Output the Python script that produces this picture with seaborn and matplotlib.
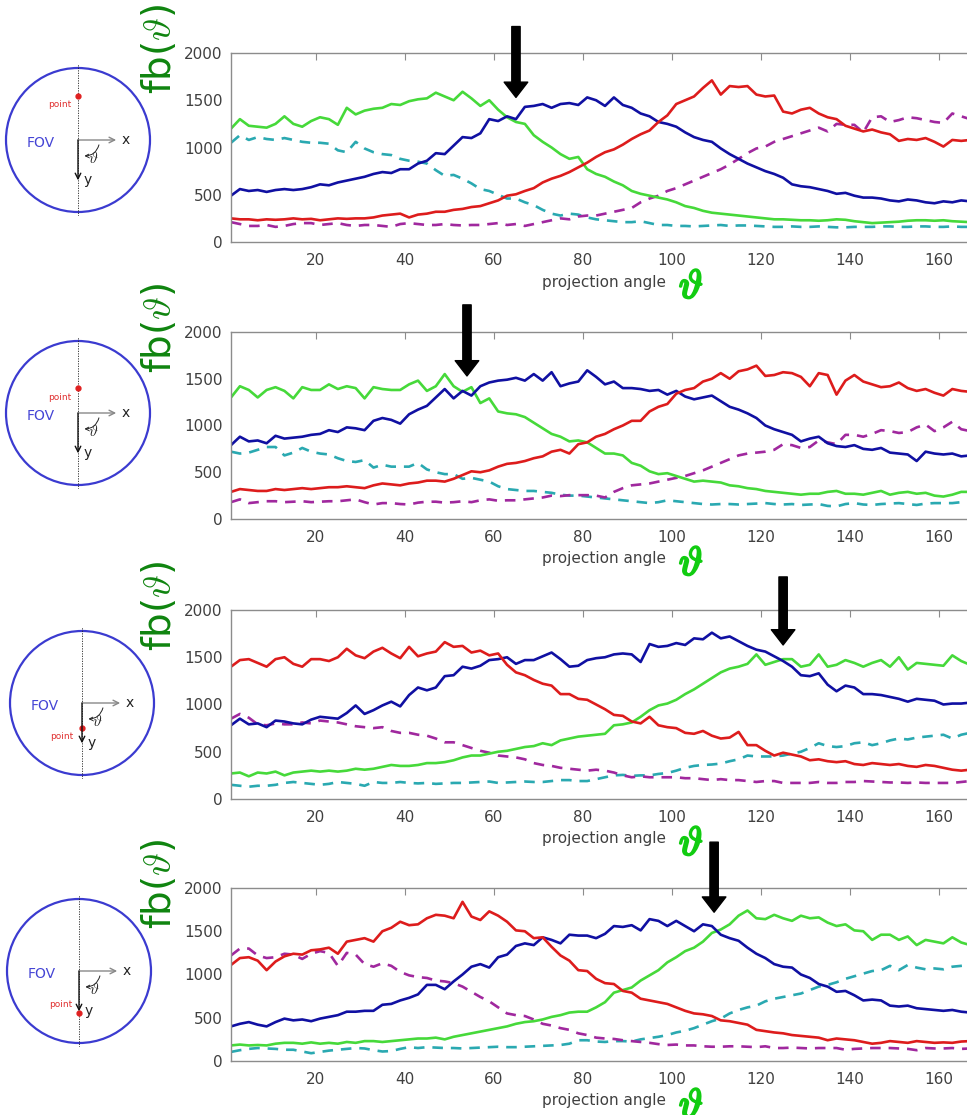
import numpy as np
import pandas as pd
import matplotlib
matplotlib.use('Agg')
import matplotlib.pyplot as plt
import matplotlib.patheffects as pe
import seaborn as sns
from matplotlib.patches import Circle, FancyArrowPatch

# projection angles (every 2 degrees)
angles = np.arange(1, 168, 2)

# ---- panel 1 (point above centre) ----
p1_green = [1200, 1300, 1230, 1220, 1210, 1250, 1330, 1250, 1220, 1280,
            1320, 1300, 1240, 1420, 1350, 1390, 1410, 1420, 1460, 1450,
            1490, 1510, 1520, 1580, 1540, 1500, 1590, 1520, 1440, 1500,
            1400, 1320, 1270, 1250, 1130, 1060, 1000, 930, 880, 900,
            770, 720, 690, 640, 600, 540, 510, 490, 470, 450,
            420, 380, 360, 330, 310, 300, 290, 280, 270, 260,
            250, 240, 240, 235, 230, 230, 225, 230, 240, 235,
            220, 210, 200, 205, 210, 215, 225, 230, 230, 225,
            230, 220, 215, 210]
p1_blue = [490, 560, 540, 550, 530, 550, 560, 550, 560, 580,
           610, 600, 630, 650, 670, 690, 720, 740, 730, 770,
           770, 830, 860, 940, 930, 1020, 1110, 1100, 1150, 1300,
           1280, 1330, 1300, 1430, 1440, 1460, 1420, 1460, 1470, 1450,
           1530, 1500, 1440, 1530, 1450, 1420, 1360, 1330, 1270, 1250,
           1220, 1160, 1110, 1080, 1060, 990, 930, 880, 830, 790,
           750, 720, 680, 610, 590, 580, 560, 540, 510, 520,
           490, 470, 470, 460, 440, 430, 450, 440, 420, 410,
           430, 420, 440, 430]
p1_red = [250, 240, 240, 230, 240, 235, 240, 250, 240, 245,
          230, 240, 250, 245, 250, 250, 260, 280, 290, 300,
          260, 290, 300, 320, 320, 340, 350, 370, 380, 410,
          440, 490, 505, 540, 570, 630, 670, 700, 740, 790,
          840, 900, 950, 980, 1030, 1090, 1140, 1180, 1270, 1340,
          1460, 1500, 1540, 1630, 1710, 1560, 1650, 1640, 1650, 1560,
          1540, 1550, 1380, 1360, 1400, 1420, 1360, 1320, 1300, 1230,
          1200, 1170, 1190, 1160, 1140, 1070, 1090, 1080, 1100, 1060,
          1010, 1080, 1070, 1080]
p1_cyan = [1050, 1130, 1080, 1110, 1090, 1080, 1100, 1080, 1060, 1050,
           1050, 1040, 970, 950, 1060, 990, 950, 930, 920, 880,
           860, 850, 830, 760, 700, 710, 670, 620, 560, 540,
           500, 460, 460, 420, 390, 340, 300, 280, 300, 290,
           260, 240, 230, 220, 210, 210, 220, 200, 180, 180,
           170, 170, 165, 170, 175, 180, 170, 175, 175, 170,
           165, 160, 160, 165, 160, 160, 165, 160, 155, 155,
           160, 160, 160, 165, 165, 160, 160, 165, 165, 160,
           160, 165, 160, 160]
p1_magenta = [210, 190, 170, 170, 180, 160, 170, 190, 200, 200,
              180, 190, 200, 180, 170, 180, 180, 170, 160, 190,
              200, 190, 180, 180, 190, 180, 175, 180, 180, 190,
              200, 180, 190, 170, 190, 210, 230, 250, 240, 270,
              280, 280, 300, 320, 340, 360, 420, 460, 490, 540,
              570, 610, 650, 690, 730, 770, 820, 880, 940, 990,
              1010, 1060, 1090, 1120, 1150, 1180, 1210, 1170, 1250, 1240,
              1240, 1160, 1320, 1330, 1270, 1290, 1320, 1310, 1290, 1270,
              1260, 1360, 1330, 1300]

# ---- panel 2 ----
p2_green = [1300, 1420, 1380, 1300, 1380, 1410, 1370, 1290, 1410, 1380,
            1380, 1440, 1390, 1420, 1400, 1290, 1410, 1390, 1380, 1380,
            1440, 1480, 1370, 1420, 1550, 1420, 1360, 1410, 1240, 1290,
            1150, 1130, 1120, 1090, 1030, 970, 910, 880, 830, 840,
            820, 760, 700, 700, 680, 600, 570, 510, 480, 490,
            460, 430, 400, 410, 400, 390, 360, 350, 330, 320,
            300, 290, 280, 270, 260, 270, 270, 290, 300, 270,
            270, 260, 280, 300, 260, 280, 290, 270, 280, 250,
            240, 260, 290, 290]
p2_blue = [790, 880, 830, 840, 810, 890, 860, 870, 880, 900,
           910, 950, 930, 980, 970, 950, 1050, 1080, 1060, 1020,
           1120, 1170, 1210, 1300, 1390, 1290, 1370, 1320, 1420, 1460,
           1480, 1490, 1510, 1480, 1550, 1480, 1570, 1420, 1450, 1470,
           1590, 1520, 1440, 1470, 1400, 1400, 1390, 1370, 1380, 1330,
           1370, 1310, 1280, 1300, 1320, 1260, 1200, 1170, 1130, 1080,
           1000, 960, 930, 900, 830, 860, 880, 810, 780, 770,
           790, 750, 740, 760, 710, 700, 690, 620, 720, 700,
           690, 700, 670, 680]
p2_red = [290, 320, 310, 300, 300, 320, 310, 320, 330, 320,
          330, 340, 340, 350, 340, 330, 360, 380, 370, 360,
          380, 390, 410, 410, 400, 430, 470, 510, 500, 520,
          560, 590, 600, 620, 650, 670, 720, 740, 700, 800,
          820, 880, 910, 960, 1000, 1050, 1050, 1150, 1200, 1230,
          1340, 1380, 1400, 1470, 1500, 1560, 1500, 1580, 1600, 1640,
          1530, 1540, 1570, 1560, 1520, 1420, 1560, 1540, 1330, 1480,
          1540, 1470, 1440, 1410, 1420, 1460, 1400, 1370, 1390, 1350,
          1320, 1390, 1370, 1360]
p2_cyan = [720, 700, 710, 740, 770, 770, 680, 710, 760, 720,
           700, 690, 650, 620, 610, 630, 550, 580, 560, 560,
           560, 600, 530, 500, 480, 480, 430, 440, 420, 400,
           350, 320, 310, 300, 300, 290, 280, 260, 250, 250,
           240, 230, 220, 210, 200, 190, 180, 170, 180, 200,
           190, 180, 170, 160, 155, 160, 160, 155, 160, 165,
           170, 160, 155, 160, 150, 155, 160, 140, 135, 160,
           170, 155, 150, 160, 165, 170, 160, 150, 165, 170,
           170, 170, 180, 185]
p2_magenta = [180, 210, 170, 180, 190, 190, 180, 185, 190, 180,
              185, 190, 190, 200, 210, 180, 155, 170, 170, 160,
              155, 175, 185, 185, 175, 180, 190, 180, 200, 210,
              195, 200, 200, 210, 220, 230, 250, 245, 255, 255,
              255, 250, 230, 290, 330, 360, 370, 380, 400, 420,
              440, 460, 490, 520, 560, 600, 640, 680, 700, 710,
              720, 740, 800, 790, 760, 770, 840, 820, 800, 900,
              900, 880, 910, 950, 940, 920, 930, 980, 1010, 940,
              980, 1040, 960, 940]

# ---- panel 3 ----
p3_green = [270, 280, 240, 280, 270, 290, 250, 280, 290, 300,
            290, 300, 290, 300, 320, 310, 320, 340, 360, 350,
            350, 360, 380, 380, 390, 410, 440, 460, 460, 480,
            500, 510, 530, 550, 560, 590, 570, 620, 640, 660,
            670, 680, 690, 780, 790, 810, 870, 940, 990, 1010,
            1050, 1110, 1160, 1220, 1280, 1340, 1380, 1400, 1430, 1530,
            1420, 1450, 1480, 1480, 1400, 1420, 1530, 1400, 1420, 1470,
            1440, 1400, 1440, 1470, 1400, 1500, 1370, 1440, 1430, 1420,
            1410, 1520, 1460, 1420]
p3_blue = [780, 850, 790, 800, 760, 830, 820, 800, 790, 840,
           870, 860, 850, 910, 990, 900, 940, 990, 1030, 980,
           1100, 1180, 1150, 1180, 1300, 1310, 1400, 1380, 1410, 1470,
           1480, 1500, 1430, 1470, 1470, 1510, 1550, 1480, 1400, 1410,
           1470, 1490, 1500, 1530, 1540, 1530, 1450, 1640, 1610, 1620,
           1650, 1630, 1700, 1690, 1760, 1700, 1720, 1670, 1620, 1580,
           1560, 1510, 1460, 1400, 1310, 1300, 1330, 1210, 1140, 1200,
           1180, 1110, 1110, 1100, 1080, 1060, 1030, 1060, 1050, 1040,
           1000, 1010, 1010, 1020]
p3_red = [1400, 1470, 1480, 1440, 1400, 1480, 1500, 1430, 1400, 1480,
          1480, 1460, 1500, 1590, 1520, 1490, 1560, 1600, 1540, 1490,
          1610, 1510, 1540, 1560, 1660, 1610, 1620, 1550, 1570, 1520,
          1540, 1420, 1340, 1310, 1260, 1220, 1200, 1110, 1110, 1060,
          1050, 1000, 950, 890, 880, 820, 800, 870, 780, 760,
          750, 700, 690, 720, 670, 640, 650, 710, 570, 570,
          510, 460, 490, 470, 450, 410, 420, 400, 390, 400,
          370, 360, 380, 370, 360, 370, 350, 340, 360, 350,
          330, 310, 300, 310]
p3_cyan = [150, 140, 130, 140, 140, 150, 170, 180, 170, 160,
           150, 160, 180, 170, 160, 140, 180, 170, 170, 180,
           170, 165, 170, 160, 165, 170, 170, 175, 180, 185,
           170, 175, 180, 185, 180, 180, 190, 200, 200, 190,
           190, 210, 230, 250, 255, 245, 250, 250, 265, 275,
           300, 330, 350, 360, 365, 375, 400, 420, 460, 450,
           450, 450, 460, 480, 500, 540, 590, 560, 550, 560,
           590, 600, 570, 590, 620, 640, 630, 650, 660, 670,
           680, 640, 680, 700]
p3_magenta = [850, 900, 860, 790, 780, 800, 790, 790, 810, 800,
              830, 820, 810, 790, 770, 760, 750, 760, 720, 700,
              700, 680, 670, 640, 600, 600, 570, 540, 510, 490,
              460, 450, 440, 420, 380, 360, 350, 330, 320, 310,
              300, 310, 300, 280, 250, 230, 240, 230, 230, 230,
              230, 220, 220, 210, 200, 210, 200, 200, 190, 180,
              190, 190, 170, 170, 170, 170, 180, 170, 170, 180,
              180, 190, 185, 180, 175, 175, 170, 175, 170, 170,
              170, 170, 180, 190]

# ---- panel 4 (point below centre) ----
p4_green = [180, 190, 180, 185, 180, 200, 210, 210, 200, 215,
            200, 210, 200, 220, 210, 230, 230, 220, 230, 240,
            250, 260, 260, 270, 250, 280, 300, 320, 340, 360,
            380, 400, 430, 450, 460, 480, 510, 530, 560, 570,
            570, 620, 680, 790, 820, 850, 930, 990, 1050, 1140,
            1200, 1270, 1310, 1380, 1480, 1520, 1580, 1680, 1740, 1650,
            1640, 1690, 1650, 1620, 1680, 1650, 1660, 1600, 1560, 1580,
            1510, 1500, 1400, 1460, 1460, 1400, 1440, 1340, 1400, 1380,
            1360, 1430, 1370, 1340]
p4_blue = [400, 430, 450, 420, 400, 450, 490, 470, 480, 460,
           490, 510, 530, 570, 570, 580, 580, 650, 660, 700,
           730, 770, 880, 880, 830, 920, 1000, 1090, 1120, 1080,
           1200, 1230, 1330, 1360, 1340, 1430, 1400, 1360, 1460, 1450,
           1450, 1420, 1470, 1560, 1550, 1570, 1510, 1640, 1620, 1560,
           1620, 1560, 1500, 1580, 1560, 1460, 1420, 1390, 1310, 1240,
           1190, 1120, 1090, 1080, 1000, 960, 890, 860, 800, 810,
           760, 700, 710, 700, 640, 630, 640, 610, 600, 590,
           580, 590, 570, 560]
p4_red = [1110, 1190, 1200, 1160, 1050, 1150, 1210, 1240, 1230, 1280,
          1290, 1310, 1240, 1380, 1400, 1420, 1380, 1500, 1540, 1610,
          1570, 1580, 1650, 1690, 1680, 1650, 1840, 1670, 1630, 1730,
          1680, 1610, 1510, 1500, 1420, 1430, 1320, 1220, 1160, 1050,
          1040, 950, 900, 890, 810, 790, 720, 700, 680, 660,
          620, 580, 550, 540, 520, 470, 460, 440, 420, 360,
          345, 330, 320, 300, 290, 280, 270, 240, 260, 250,
          240, 220, 200, 210, 230, 220, 210, 230, 220, 210,
          215, 210, 225, 230]
p4_cyan = [105, 125, 140, 150, 145, 140, 130, 130, 110, 90,
           105, 120, 130, 140, 150, 145, 125, 110, 115, 140,
           160, 150, 160, 155, 150, 150, 145, 150, 155, 160,
           165, 160, 160, 165, 170, 175, 180, 185, 200, 240,
           240, 225, 220, 230, 230, 225, 250, 265, 280, 300,
           330, 350, 380, 420, 460, 490, 550, 590, 620, 640,
           690, 720, 740, 760, 780, 820, 860, 880, 910, 950,
           980, 1010, 1040, 1050, 1100, 1050, 1110, 1080, 1060, 1070,
           1060, 1090, 1100, 1110]
p4_magenta = [1220, 1300, 1300, 1220, 1190, 1200, 1240, 1230, 1180, 1240,
              1270, 1250, 1100, 1250, 1230, 1120, 1090, 1130, 1100, 1030,
              990, 970, 960, 930, 920, 900, 860, 800, 740, 690,
              620, 550, 530, 520, 480, 430, 410, 380, 360, 320,
              300, 270, 260, 255, 240, 230, 220, 210, 195, 185,
              190, 180, 180, 170, 165, 165, 170, 170, 165, 160,
              170, 150, 150, 155, 150, 145, 150, 150, 150, 130,
              140, 145, 150, 150, 150, 145, 140, 125, 150, 145,
              145, 150, 140, 145]

# arrows marking the crossing point (angle, tip value, tail value)
arrow_angle = [65, 54, 125, 109.5]
arrow_tip = [1530, 1530, 1630, 1720]
arrow_tail = [2280, 2290, 2350, 2530]

# position of the point inside the FOV (relative to the radius)
point_y = [0.61, 0.35, -0.35, -0.58]
point_label_xy = [(-0.26, 0.49), (-0.25, 0.21), (-0.28, -0.46), (-0.26, -0.46)]

curve_names = ['cyan', 'magenta', 'green', 'blue', 'red']
palette = {'green': '#46d93a', 'blue': '#1010a2', 'red': '#dd1c1c',
           'cyan': '#2aa9b1', 'magenta': '#a0289e'}
dash_map = {'green': '', 'blue': '', 'red': '', 'cyan': (4, 3), 'magenta': (4, 3)}

panels = [
    [p1_cyan, p1_magenta, p1_green, p1_blue, p1_red],
    [p2_cyan, p2_magenta, p2_green, p2_blue, p2_red],
    [p3_cyan, p3_magenta, p3_green, p3_blue, p3_red],
    [p4_cyan, p4_magenta, p4_green, p4_blue, p4_red],
]

# layout (pixels)
W, H = 967, 1115
ax_left, ax_right = 231, 1028
ax_top = [53, 332, 610, 888]
ax_bottom = [242, 519, 799, 1061]
circle_c = [(78, 140), (78, 413), (82, 703), (79, 971)]
R = 72

sns.set_style('white')
plt.rcParams['font.family'] = ['DejaVu Sans']

THETA = r'$\vartheta$'
BRIGHT_GREEN = '#11cc11'

fig = plt.figure(figsize=(W / 100, H / 100), dpi=100)

for i, series in enumerate(panels):
    rect = [ax_left / W, 1 - ax_bottom[i] / H,
            (ax_right - ax_left) / W, (ax_bottom[i] - ax_top[i]) / H]
    ax = fig.add_axes(rect)
    df = pd.DataFrame({
        'angle': np.tile(angles, len(series)),
        'value': np.concatenate([np.asarray(s, float) for s in series]),
        'curve': np.repeat(curve_names, len(angles)),
    })
    sns.lineplot(data=df, x='angle', y='value', hue='curve', style='curve',
                 palette=palette, dashes=dash_map, linewidth=1.9,
                 legend=False, ax=ax)
    ax.set_xlim(1, 180)
    ax.set_ylim(0, 2000)
    ax.set_xticks(range(20, 161, 20))
    ax.set_yticks(range(0, 2001, 500))
    ax.set_xlabel('')
    ax.set_ylabel('')
    ax.tick_params(direction='in', length=5, width=0.8, color='#8c8c8c',
                   labelcolor='#404040', labelsize=11, top=True, right=True)
    ax.tick_params(axis='x', pad=8)
    ax.tick_params(axis='y', pad=6)
    for s in ax.spines.values():
        s.set_color('#8c8c8c')
        s.set_linewidth(1.0)

    # axis labels
    ax.annotate('fb(' + THETA + ')', xy=(0, 1), xycoords='axes fraction',
                xytext=(-71, 4), textcoords='offset pixels', rotation=90,
                ha='center', va='center', fontsize=28, color='#0f840f',
                math_fontfamily='cm')
    ax.annotate('projection angle', xy=(98.6, 0), xycoords=('data', 'axes fraction'),
                xytext=(0, -40), textcoords='offset pixels',
                ha='right', va='center', fontsize=11, color='#404040')
    ax.annotate(THETA, xy=(101.6, 0), xycoords=('data', 'axes fraction'),
                xytext=(0, -45), textcoords='offset pixels',
                ha='left', va='center', fontsize=29, color=BRIGHT_GREEN,
                math_fontfamily='cm',
                path_effects=[pe.withStroke(linewidth=1.6, foreground=BRIGHT_GREEN)])

    # arrow
    ax.annotate('', xy=(arrow_angle[i], arrow_tip[i]),
                xytext=(arrow_angle[i], arrow_tail[i]),
                arrowprops=dict(facecolor='black', edgecolor='black',
                                width=6, headwidth=17, headlength=11, shrink=0),
                annotation_clip=False, zorder=10)

    # FOV sketch
    cx, cy = circle_c[i]
    half = 76
    cax = fig.add_axes([(cx - half) / W, 1 - (cy + half) / H, 2 * half / W, 2 * half / H])
    lim = half / R
    cax.set_xlim(-lim, lim)
    cax.set_ylim(-lim, lim)
    cax.axis('off')
    cax.add_patch(Circle((0, 0), 1, fill=False, ec='#3b3bd0', lw=1.6))
    cax.plot([0, 0], [-1.05, 1.05], ls=(0, (1.5, 1.5)), color='#222222', lw=0.6)
    cax.annotate('', xy=(0.53, 0), xytext=(0, 0),
                 arrowprops=dict(arrowstyle='->', color='#888888', lw=1.0, shrinkA=0, shrinkB=0))
    cax.annotate('', xy=(0, -0.56), xytext=(0, 0),
                 arrowprops=dict(arrowstyle='->', color='#111111', lw=1.0, shrinkA=0, shrinkB=0))
    cax.text(0.6, 0.0, 'x', fontsize=10, va='center', ha='left', color='#222222')
    cax.text(0.08, -0.56, 'y', fontsize=10, va='center', ha='left', color='#222222')
    cax.add_patch(FancyArrowPatch((0.3, -0.03), (0.05, -0.22),
                                  connectionstyle='arc3,rad=-0.45', arrowstyle='->',
                                  mutation_scale=6, lw=0.7, color='#222222'))
    cax.text(0.21, -0.26, THETA, fontsize=11, va='center', ha='center',
             color='#222222', math_fontfamily='cm')
    cax.text(-0.52, -0.04, 'FOV', fontsize=10, color='#4545d5', ha='center', va='center')
    cax.plot([0], [point_y[i]], 'o', color='#e02020', ms=3.5)
    lx, ly = point_label_xy[i]
    cax.text(lx, ly, 'point', fontsize=6.5, color='#e03030', ha='center', va='center')

fig.savefig('out.png', dpi=100)
